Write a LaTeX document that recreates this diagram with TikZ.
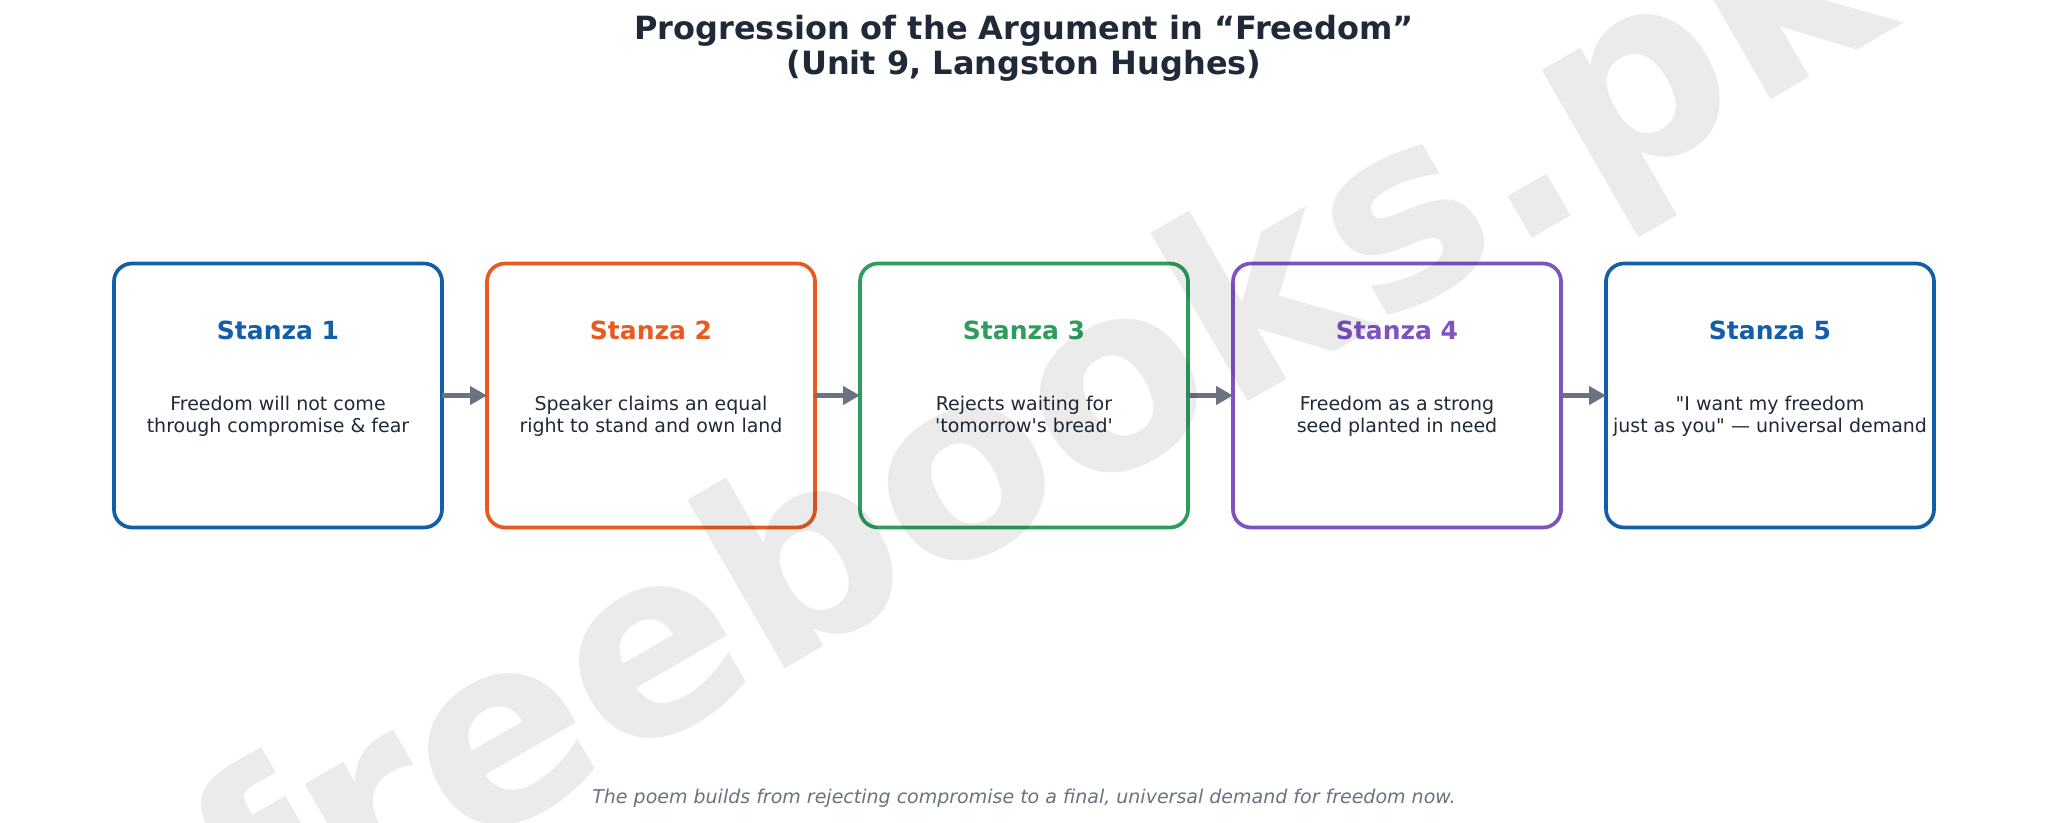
\documentclass[tikz,border=0pt]{standalone}
\usepackage{fontspec}
\setmainfont{DejaVu Sans}[Ligatures=TeXOff,BoldFont={DejaVu Sans Bold},ItalicFont={DejaVu Sans Oblique}]
\usetikzlibrary{arrows.meta}
\definecolor{ink}{HTML}{1F2937}
\definecolor{muted}{HTML}{6B7280}
\definecolor{cblue}{HTML}{125EA8}
\definecolor{corange}{HTML}{E85A20}
\definecolor{cgreen}{HTML}{2E9C5A}
\definecolor{cpurple}{HTML}{7E52C0}
\tikzset{
  stanzabox/.style={draw=#1, line width=3.7pt, rounded corners=18pt, fill=white,
    minimum width=328pt, minimum height=264pt, inner sep=0pt, outer sep=0pt},
  stanzahead/.style={text=#1, anchor=base, inner sep=0pt, font=\fontsize{25}{30}\selectfont\bfseries},
  bodyline/.style={text=ink, anchor=base, inner sep=0pt, font=\fontsize{19}{22}\selectfont},
  titleline/.style={text=ink, anchor=base, inner sep=0pt, font=\fontsize{32}{36}\selectfont\bfseries},
  flowarrow/.style={draw=muted, line width=4.2pt, -{Triangle[length=17pt,width=18pt]}},
}
\begin{document}
\begin{tikzpicture}[x=1pt,y=-1pt]
\useasboundingbox (0,0) rectangle (2048,822);
\fill[white] (0,0) rectangle (2048,822);
\clip (0,0) rectangle (2048,822);

\node[titleline] (t1) at (1024,39) {Progression of the Argument in “Freedom”};
\node[titleline] (t2) at (1024,74) {(Unit 9, Langston Hughes)};

\node[stanzabox=cblue]   (s1) at (278,395.5) {};
\node[stanzabox=corange] (s2) at (651,395.5) {};
\node[stanzabox=cgreen]  (s3) at (1024,395.5) {};
\node[stanzabox=cpurple] (s4) at (1397,395.5) {};
\node[stanzabox=cblue]   (s5) at (1770,395.5) {};

\node[stanzahead=cblue]   (h1) at (278,339.5) {Stanza 1};
\node[stanzahead=corange] (h2) at (651,339.5) {Stanza 2};
\node[stanzahead=cgreen]  (h3) at (1024,339.5) {Stanza 3};
\node[stanzahead=cpurple] (h4) at (1397,339.5) {Stanza 4};
\node[stanzahead=cblue]   (h5) at (1770,339.5) {Stanza 5};

\node[bodyline] (b1a) at (278,410) {Freedom will not come};
\node[bodyline] (b1b) at (278,432) {through compromise \& fear};
\node[bodyline] (b2a) at (651,410) {Speaker claims an equal};
\node[bodyline] (b2b) at (651,432) {right to stand and own land};
\node[bodyline] (b3a) at (1024,410) {Rejects waiting for};
\node[bodyline] (b3b) at (1024,432) {'tomorrow's bread'};
\node[bodyline] (b4a) at (1397,410) {Freedom as a strong};
\node[bodyline] (b4b) at (1397,432) {seed planted in need};
\node[bodyline] (b5a) at (1770,410) {"I want my freedom};
\node[bodyline] (b5b) at (1770,432) {just as you" — universal demand};

\draw[flowarrow] (s1) -- (s2);
\draw[flowarrow] (s2) -- (s3);
\draw[flowarrow] (s3) -- (s4);
\draw[flowarrow] (s4) -- (s5);

\node[text=muted, anchor=base, inner sep=0pt, font=\fontsize{19}{22}\selectfont\itshape] (foot) at (1024,803)
  {The poem builds from rejecting compromise to a final, universal demand for freedom now.};

\node[rotate=30, anchor=base, inner sep=0pt, text=black, text opacity=0.08,
  font=\fontsize{256}{296}\selectfont\bfseries] (wm) at (1080,499) {freebooks.pk};
\end{tikzpicture}
\end{document}
